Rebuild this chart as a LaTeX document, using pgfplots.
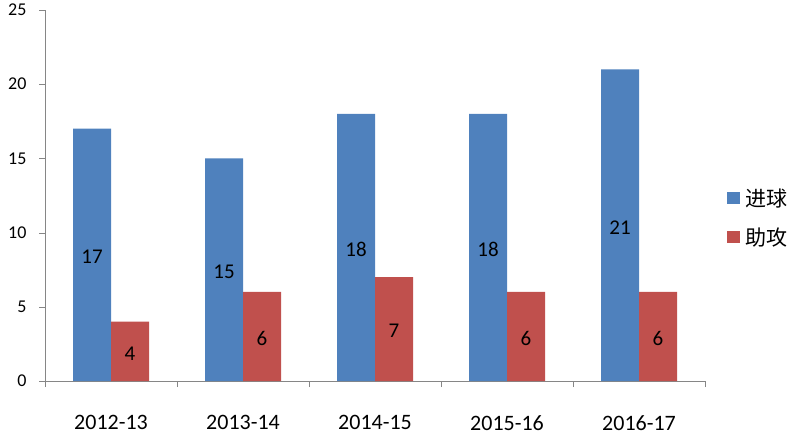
\documentclass[border=0pt]{standalone}
\usepackage{pgfplots}
\pgfplotsset{compat=1.18}
\usepackage{fontspec}
\setmainfont{Carlito}
\newfontfamily\cjk{Noto Sans CJK SC}
\definecolor{cblue}{HTML}{4F81BD}
\definecolor{cred}{HTML}{C0504D}
\definecolor{caxis}{HTML}{868686}
\begin{document}
\begin{tikzpicture}
\begin{axis}[
  scale only axis, width=660pt, height=371pt,
  ybar=0pt, bar width=38pt,
  xmin=-0.5, xmax=4.5, ymin=0, ymax=25,
  ytick={0,5,...,25},
  xtick={0,1,2,3,4},
  xticklabels={2012-13,2013-14,2014-15,2015-16,2016-17},
  x tick label style={font=\fontsize{22}{24}\selectfont, yshift=-25pt},
  y tick label style={font=\fontsize{18}{20}\selectfont, xshift=-9pt},
  /pgf/number format/assume math mode=true,
  major x tick style={draw=none},
  minor xtick={-0.5,0.5,1.5,2.5,3.5,4.5},
  minor x tick style={draw=caxis},
  y tick style={draw=caxis},
  tick align=outside,
  major tick length=6pt, minor tick length=6pt,
  axis x line*=bottom, axis y line*=left,
  axis line style={draw=caxis, -},
  separate axis lines,
  enlargelimits=false, clip=false,
  nodes near coords,
  visualization depends on={rawy \as \rawy},
  every node near coord/.append style={font=\fontsize{21}{24}\selectfont, anchor=center, yshift=-2pt, shift={(axis direction cs:0,-\rawy/2)}},
  legend style={draw=none, fill=none, at={(1.028,0.44)}, anchor=west, font=\fontsize{21}{24}\cjk, row sep=16pt, legend cell align=left,
    nodes={inner xsep=6pt}},
  legend image code/.code={\fill[#1] (0pt,-6pt) rectangle (13pt,6pt);},
]
\addplot[fill=cblue, draw=none] coordinates {(0,17) (1,15) (2,18) (3,18) (4,21)};
\addplot[fill=cred, draw=none] coordinates {(0,4) (1,6) (2,7) (3,6) (4,6)};
\legend{进球,助攻}
\coordinate (bl) at (rel axis cs:-0.0682,-0.159);
\coordinate (tr) at (rel axis cs:1.1439,1.027);
\end{axis}
\pgfresetboundingbox
\path[use as bounding box] (bl) rectangle (tr);
\end{tikzpicture}
\end{document}
